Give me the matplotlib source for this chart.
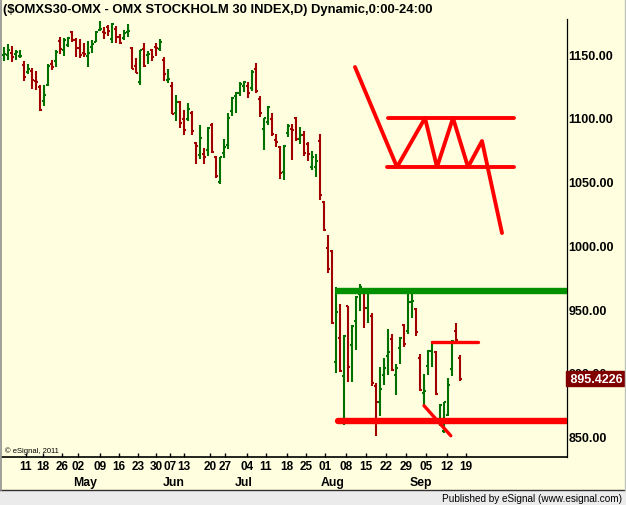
import matplotlib
matplotlib.use('Agg')
import matplotlib.pyplot as plt
from matplotlib.transforms import blended_transform_factory
from matplotlib.lines import Line2D
from matplotlib.patches import Rectangle

# ---------------- data ----------------
opens = [1149.7, 1149.7, 1151.3, 1150.2, 1148.4, 1141.8, 1135.9, 1136.6, 1129.3, 1124.6,
         1113.6, 1125.9, 1142.4, 1145.0, 1160.7, 1153.4, 1157.5, 1167.3, 1161.2, 1154.7,
         1150.7, 1148.9, 1155.4, 1159.9, 1169.0, 1167.2, 1171.7, 1162.0, 1169.8, 1163.8,
         1162.8, 1167.2, 1155.2, 1141.1, 1128.0, 1154.1, 1149.7, 1153.3, 1156.0, 1154.0,
         1145.6, 1129.5, 1124.9, 1103.7, 1112.9, 1099.3, 1099.3, 1103.7, 1080.4, 1071.0,
         1071.8, 1074.9, 1094.8, 1069.2, 1050.1, 1072.3, 1078.9, 1105.3, 1117.5, 1119.3,
         1125.3, 1125.3, 1123.5, 1138.4, 1114.9, 1091.3, 1096.6, 1099.2, 1082.7, 1076.9,
         1057.3, 1087.9, 1091.3, 1100.0, 1083.5, 1086.9, 1079.6, 1061.3, 1061.3, 1081.7,
         1034.1, 997.7, 995.9, 908.8, 927.1, 897.3, 952.2, 921.9, 941.0, 961.9,
         962.7, 950.6, 944.9, 889.4, 876.9, 898.3, 913.5, 926.5, 898.5, 919.2,
         937.8, 932.5, 955.3, 950.1, 911.3, 884.5, 905.1, 917.4, 916.6, 862.4,
         854.6, 866.9, 903.0, 933.1, 911.3]
highs = [1155.7, 1158.1, 1156.5, 1153.6, 1153.4, 1144.5, 1142.4, 1139.2, 1136.6, 1125.7,
         1125.9, 1142.1, 1145.5, 1153.0, 1163.3, 1162.8, 1163.3, 1168.0, 1162.8, 1162.2,
         1158.6, 1160.1, 1161.2, 1168.5, 1176.4, 1171.7, 1173.0, 1174.3, 1172.4, 1165.9,
         1169.0, 1173.8, 1155.4, 1147.1, 1153.3, 1158.6, 1152.3, 1154.1, 1158.6, 1162.0,
         1147.7, 1138.5, 1128.0, 1118.1, 1113.6, 1106.3, 1111.8, 1105.5, 1081.5, 1094.5,
         1076.2, 1093.0, 1096.1, 1070.0, 1069.2, 1083.6, 1104.0, 1116.3, 1120.1, 1128.0,
         1129.3, 1128.0, 1137.6, 1142.9, 1117.5, 1100.0, 1109.1, 1103.6, 1087.4, 1078.3,
         1079.0, 1095.3, 1095.3, 1100.5, 1092.6, 1090.0, 1080.9, 1073.8, 1071.7, 1087.4,
         1034.6, 1008.2, 996.4, 967.1, 954.0, 929.7, 952.7, 937.6, 960.6, 969.7,
         963.2, 965.3, 947.0, 892.0, 904.3, 911.4, 934.4, 930.4, 906.9, 927.8,
         938.3, 963.1, 965.8, 950.8, 914.8, 899.0, 918.1, 925.2, 917.4, 875.5,
         877.3, 895.6, 925.7, 938.8, 913.9]
lows = [1145.0, 1145.8, 1144.2, 1145.8, 1146.9, 1129.3, 1134.5, 1122.8, 1122.0, 1105.3,
        1109.7, 1125.3, 1137.9, 1140.3, 1150.2, 1148.9, 1155.5, 1159.4, 1147.6, 1146.9,
        1147.6, 1140.3, 1150.7, 1159.4, 1168.5, 1162.0, 1164.6, 1158.6, 1158.6, 1158.1,
        1161.2, 1163.3, 1138.4, 1135.0, 1126.1, 1140.3, 1142.4, 1144.5, 1148.9, 1152.8,
        1129.3, 1127.3, 1102.9, 1098.0, 1091.9, 1086.7, 1097.9, 1086.7, 1063.9, 1067.9,
        1063.9, 1070.0, 1072.6, 1052.9, 1048.3, 1068.4, 1075.7, 1101.9, 1103.9, 1117.5,
        1120.6, 1115.4, 1121.4, 1119.3, 1100.5, 1075.1, 1094.7, 1086.1, 1076.9, 1052.1,
        1051.3, 1084.8, 1067.0, 1082.2, 1079.6, 1070.4, 1066.5, 1059.4, 1053.7, 1035.9,
        1011.1, 978.4, 938.4, 899.9, 900.9, 859.1, 892.6, 892.6, 918.2, 948.8,
        935.2, 939.1, 890.0, 850.2, 866.4, 890.5, 898.3, 901.7, 882.6, 906.9,
        920.5, 930.4, 942.7, 929.1, 886.0, 874.2, 898.3, 904.3, 882.6, 858.5,
        852.7, 866.3, 897.7, 923.9, 893.8]
closes = [1150.2, 1153.6, 1148.1, 1151.8, 1148.9, 1131.9, 1138.7, 1130.1, 1128.3, 1106.3,
          1117.8, 1141.0, 1140.3, 1151.5, 1154.2, 1161.2, 1163.0, 1161.2, 1154.9, 1149.4,
          1150.2, 1150.7, 1158.1, 1167.7, 1170.0, 1166.4, 1168.0, 1173.8, 1163.8, 1158.6,
          1166.4, 1168.0, 1138.4, 1135.0, 1153.3, 1141.1, 1150.2, 1148.1, 1154.7, 1160.0,
          1134.6, 1130.5, 1103.2, 1112.9, 1096.1, 1090.6, 1107.1, 1090.1, 1078.3, 1084.1,
          1069.2, 1091.9, 1073.1, 1054.8, 1069.2, 1077.0, 1100.0, 1115.5, 1119.3, 1126.7,
          1128.0, 1119.3, 1135.8, 1120.9, 1103.6, 1099.7, 1108.9, 1087.4, 1080.9, 1056.8,
          1078.3, 1093.9, 1090.6, 1083.5, 1086.6, 1072.2, 1071.7, 1069.1, 1066.5, 1039.6,
          1012.4, 981.5, 939.1, 947.5, 901.7, 929.2, 904.3, 937.0, 959.3, 967.1,
          950.6, 962.7, 892.1, 876.8, 887.3, 903.6, 916.6, 902.4, 903.5, 927.0,
          922.6, 955.3, 956.6, 931.7, 886.7, 886.0, 917.4, 923.9, 883.4, 874.7,
          876.8, 890.4, 925.2, 926.0, 895.4]

day_labels = ['11', '18', '26', '02', '09', '16', '23', '30', '07', '13', '20', '27',
              '04', '11', '18', '25', '01', '08', '15', '22', '29', '05', '12', '19']
day_pos = [5.5, 9.75, 14.5, 18.5, 24.0, 28.75, 33.5, 38.0, 41.5, 45.0, 51.5, 55.25,
           60.75, 65.5, 70.75, 75.5, 80.25, 85.5, 90.5, 95.5, 100.5, 105.5, 110.75, 115.5]
month_labels = ['May', 'Jun', 'Jul', 'Aug', 'Sep']
month_pos = [20.25, 42.5, 60.0, 82.25, 104.25]
price_ticks = [850, 900, 950, 1000, 1050, 1100, 1150]
last_price = 895.4226

# hand-drawn annotations (bar index, price)
green_line_x = [83.5, 141.0]
green_line_y = [964.2, 964.2]
red_support_x = [83.5, 141.0]
red_support_y = [862.2, 862.2]
red_short_x = [106.9, 118.6]
red_short_y = [923.9, 923.9]
red_diag_x = [105.0, 111.7]
red_diag_y = [874.2, 850.6]
zigzag_x = [87.75, 98.25, 105.25, 108.25, 112.25, 116.0, 119.5, 124.5]
zigzag_y = [1140.0, 1061.5, 1100.0, 1061.5, 1100.0, 1061.5, 1081.9, 1009.7]
top_band_x = [96.0, 127.5]
top_band_y = [1100.0, 1100.0]
bottom_band_x = [95.75, 127.5]
bottom_band_y = [1061.3, 1061.3]

# ---------------- figure ----------------
BG = '#FFFFE0'
GREEN_BAR = '#007000'
RED_BAR = '#A00000'
FONT = 'Liberation Sans'

W, H = 626, 506
fig = plt.figure(figsize=(W / 100, H / 100), dpi=100, facecolor=BG)
ax = fig.add_axes([2 / W, 48 / H, 565 / W, 438 / H])
ax.set_facecolor(BG)
ax.set_xlim(-0.5, 140.75)
ax.set_ylim(833.9, 1177.7)

for s in ['top', 'left']:
    ax.spines[s].set_visible(False)
ax.spines['right'].set_color('black')
ax.spines['right'].set_linewidth(0.9)
ax.spines['bottom'].set_color('black')
ax.spines['bottom'].set_linewidth(1.2)

# OHLC bars
xs = list(range(len(opens)))
cols = [GREEN_BAR if c >= o else RED_BAR for o, c in zip(opens, closes)]
ax.vlines(xs, lows, highs, colors=cols, linewidth=1.5, zorder=3)
ax.hlines(opens, [x - 0.55 for x in xs], xs, colors=cols, linewidth=1.5, zorder=3)
ax.hlines(closes, xs, [x + 0.55 for x in xs], colors=cols, linewidth=1.5, zorder=3)

# annotations
ax.plot(green_line_x, green_line_y, color='#009000', lw=4.6,
        solid_capstyle='round', zorder=4, clip_on=True)
ax.plot(red_support_x, red_support_y, color='#FF0000', lw=4.6,
        solid_capstyle='round', zorder=4, clip_on=True)
ax.plot(red_short_x, red_short_y, color='#FF0000', lw=2.4,
        solid_capstyle='round', zorder=4)
ax.plot(red_diag_x, red_diag_y, color='#FF0000', lw=2.4,
        solid_capstyle='round', zorder=4)
ax.plot(zigzag_x, zigzag_y, color='#FF0000', lw=2.8,
        solid_capstyle='round', solid_joinstyle='round', zorder=4)
ax.plot(top_band_x, top_band_y, color='#FF0000', lw=2.8,
        solid_capstyle='round', zorder=4)
ax.plot(bottom_band_x, bottom_band_y, color='#FF0000', lw=2.8,
        solid_capstyle='round', zorder=4)

# right price axis
ax.yaxis.tick_right()
ax.set_yticks(price_ticks)
ax.set_yticklabels(['%.2f' % p for p in price_ticks], fontfamily=FONT,
                   fontweight='bold', fontsize=9)
ax.tick_params(axis='y', length=0, pad=1.0)

# last price box (drawn over the partly hidden 900.00 label, as in the original)
tr_y = blended_transform_factory(ax.transAxes, ax.transData)
ax.text(1.0, last_price, ' %.4f' % last_price, transform=tr_y, ha='left',
        va='center', fontfamily=FONT, fontweight='bold', fontsize=9,
        color='white', clip_on=False, zorder=10,
        bbox=dict(boxstyle='square,pad=0.12', facecolor='#800000',
                  edgecolor='#800000'))

# x axis: day & month labels
ax.set_xticks(day_pos)
ax.set_xticklabels([])
ax.tick_params(axis='x', direction='in', length=3, width=1, color='black')
tr_x = blended_transform_factory(ax.transData, fig.transFigure)
for lab, p in zip(day_labels, day_pos):
    ax.text(p, (H - 467) / H, lab, transform=tr_x, ha='center', va='center',
            fontfamily=FONT, fontweight='bold', fontsize=8.5, clip_on=False)
for lab, p in zip(month_labels, month_pos):
    ax.text(p, (H - 483) / H, lab, transform=tr_x, ha='center', va='center',
            fontfamily=FONT, fontweight='bold', fontsize=8.8, clip_on=False)

# title
fig.text(3 / W, (H - 10) / H, '($OMXS30-OMX - OMX STOCKHOLM 30 INDEX,D) Dynamic,0:00-24:00',
         ha='left', va='center', fontfamily=FONT, fontweight='bold', fontsize=9.4)

# copyright
fig.text(5 / W, (H - 451) / H, '\u00a9 eSignal, 2011', ha='left', va='center',
         fontfamily=FONT, fontsize=5.5)

# bottom status strip
fig.patches.append(Rectangle((0, 0), 1, 15 / H, transform=fig.transFigure,
                             facecolor='#EBEBEB', edgecolor='none', zorder=0))
fig.lines.append(Line2D([0, 1], [15.5 / H, 15.5 / H], transform=fig.transFigure,
                        color='#303030', lw=1.0))
fig.text(622 / W, (H - 499) / H, 'Published by eSignal (www.esignal.com)',
         ha='right', va='center', fontfamily=FONT, fontsize=7.2)

# window borders
fig.lines.append(Line2D([0.6 / W, 0.6 / W], [15.5 / H, 1], transform=fig.transFigure,
                        color='#909090', lw=1.2))
fig.lines.append(Line2D([624.5 / W, 624.5 / W], [15.5 / H, 1], transform=fig.transFigure,
                        color='#C0C0C0', lw=1.0))

fig.savefig('out.png', dpi=100, facecolor=BG)
